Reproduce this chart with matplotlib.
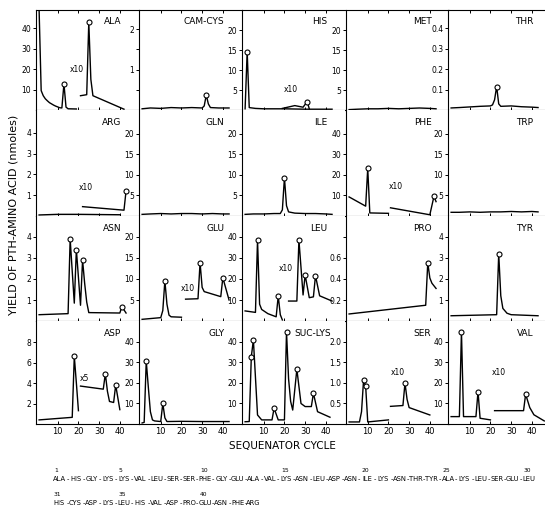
import numpy as np
import matplotlib.pyplot as plt

# values: sequenator cycle -> yield of PTH-amino acid (nmoles)
# "_x10" / "_x5" series are the expanded traces, given as drawn on the panel scale

ala_cyc = [1, 2, 3, 4, 5, 6, 7, 8, 9, 10, 11, 12, 13, 14, 15, 19]
ala_val = [49, 9.5, 7, 5.5, 4.5, 3.6, 3.0, 2.4, 1.9, 1.5, 1.1, 1.0, 12.8, 1.4, 0.6, 0.5]
ala_peaks = [13]
ala_x10_cyc = [21, 24, 25, 26, 27, 42]
ala_x10_val = [7.0, 7.5, 43, 15, 7.0, 0.4]
ala_x10_peaks = [25]

cys_cyc = [1, 5, 10, 15, 20, 25, 30, 31, 32, 33, 34, 38, 43]
cys_val = [0.03, 0.05, 0.04, 0.06, 0.05, 0.06, 0.05, 0.1, 0.37, 0.15, 0.06, 0.05, 0.05]
cys_peaks = [32]

his_cyc = [1, 2, 3, 6, 10, 20, 30, 40, 43]
his_val = [0.3, 14.6, 0.6, 0.4, 0.3, 0.3, 0.2, 0.2, 0.2]
his_peaks = [2]
his_x10_cyc = [19, 25, 29, 31, 32]
his_x10_val = [0.4, 1.1, 0.7, 2.1, 0.3]
his_x10_peaks = [31]

met_cyc = [1, 5, 10, 15, 20, 25, 30, 35, 40, 43]
met_val = [0.1, 0.2, 0.3, 0.3, 0.4, 0.3, 0.4, 0.5, 0.4, 0.3]

thr_cyc = [1, 5, 10, 15, 20, 21, 22, 23, 24, 25, 30, 35, 40, 43]
thr_val = [0.01, 0.012, 0.015, 0.018, 0.02, 0.025, 0.05, 0.115, 0.03, 0.018, 0.02, 0.016, 0.014, 0.012]
thr_peaks = [23]

arg_cyc = [1, 10, 20, 30, 40]
arg_val = [0.05, 0.08, 0.08, 0.07, 0.06]
arg_x10_cyc = [22, 42, 43]
arg_x10_val = [0.45, 0.28, 1.2]
arg_x10_peaks = [43]

gln_cyc = [1, 5, 10, 15, 20, 25, 30, 35, 40, 43]
gln_val = [0.4, 0.5, 0.6, 0.5, 0.6, 0.6, 0.5, 0.6, 0.5, 0.5]

ile_cyc = [1, 5, 10, 15, 18, 19, 20, 21, 22, 25, 30, 35, 40, 43]
ile_val = [0.4, 0.5, 0.5, 0.6, 0.6, 1.5, 9.3, 2.5, 1.0, 0.7, 0.6, 0.6, 0.5, 0.4]
ile_peaks = [20]

phe_cyc = [1, 9, 10, 11, 20]
phe_val = [9.3, 4.8, 23.2, 1.5, 1.3]
phe_peaks = [10]
phe_x10_cyc = [21, 40, 42, 43]
phe_x10_val = [4.0, 0.6, 9.6, 7.0]
phe_x10_peaks = [42]

trp_cyc = [1, 5, 10, 15, 20, 25, 30, 35, 40, 43]
trp_val = [0.9, 0.9, 1.0, 0.9, 1.0, 1.0, 1.1, 1.0, 1.1, 1.0]

asn_cyc = [1, 15, 16, 18, 19, 21, 22, 23, 24, 25, 40, 41, 43]
asn_val = [0.3, 0.35, 3.9, 0.85, 3.4, 0.75, 2.9, 1.8, 0.9, 0.4, 0.38, 0.68, 0.38]
asn_peaks = [16, 19, 22, 41]

glu_cyc = [1, 10, 11, 12, 13, 14, 15, 20]
glu_val = [0.4, 0.8, 2.5, 9.6, 4.0, 1.4, 1.0, 0.9]
glu_peaks = [12]
glu_x10_cyc = [22, 28, 29, 30, 31, 39, 40, 43]
glu_x10_val = [5.2, 5.3, 13.9, 8.0, 7.0, 5.8, 10.3, 5.0]
glu_x10_peaks = [29, 40]

leu_cyc = [1, 6, 7, 8, 9, 12, 16, 17, 18, 19]
leu_val = [4.8, 4.1, 38.6, 8.0, 5.5, 3.5, 2.0, 11.9, 3.0, 0.5]
leu_peaks = [7, 17]
leu_x10_cyc = [22, 26, 27, 29, 30, 32, 34, 35, 37, 43]
leu_x10_val = [9.5, 9.5, 38.6, 12.4, 21.9, 11.1, 11.5, 21.6, 12.0, 9.5]
leu_x10_peaks = [27, 30, 35]

pro_cyc = [1, 38, 39, 40, 41, 43]
pro_val = [0.067, 0.15, 0.555, 0.41, 0.36, 0.31]
pro_peaks = [39]

tyr_cyc = [1, 23, 24, 25, 26, 28, 30, 43]
tyr_val = [0.25, 0.3, 3.2, 1.2, 0.6, 0.37, 0.3, 0.25]
tyr_peaks = [24]

asp_cyc = [1, 17, 18, 19, 20]
asp_val = [0.4, 0.65, 6.6, 4.0, 1.3]
asp_peaks = [18]
asp_x5_cyc = [21, 32, 33, 34, 35, 37, 38, 40]
asp_x5_val = [3.7, 3.4, 4.9, 3.2, 2.2, 2.1, 3.8, 1.4]
asp_x5_peaks = [33, 38]

gly_cyc = [1, 2, 3, 4, 5, 6, 7, 10, 11, 12, 13, 20, 30, 43]
gly_val = [0.5, 0.8, 30.7, 18, 6, 2, 1.5, 1.2, 10, 3, 1.2, 1.3, 1.2, 1.2]
gly_peaks = [3, 11]

suc_cyc = [1, 3, 4, 5, 7, 9, 14, 15, 17, 20, 21, 22, 23, 24, 26, 28, 30, 33, 34, 36, 42]
suc_val = [1.1, 1.2, 32.8, 41, 4.4, 2, 2, 7.7, 2, 2, 45, 22, 11, 6.8, 26.7, 10, 8.5, 8.5, 15, 6, 3.3]
suc_peaks = [4, 5, 15, 21, 26, 34]

ser_cyc = [1, 6, 7, 8, 9, 10, 20]
ser_val = [0.05, 0.05, 0.3, 1.08, 0.92, 0.05, 0.1]
ser_peaks = [8, 9]
ser_x10_cyc = [21, 27, 28, 29, 30, 40]
ser_x10_val = [0.43, 0.45, 1.0, 0.6, 0.4, 0.22]
ser_x10_peaks = [28]

val_cyc = [1, 5, 6, 7, 13, 14, 15, 20]
val_val = [3.6, 3.6, 45, 3.6, 3.6, 15.8, 2.8, 2.0]
val_peaks = [6, 14]
val_x10_cyc = [22, 36, 37, 39, 41, 46]
val_x10_val = [6.5, 6.5, 14.5, 8.0, 4.5, 1.5]
val_x10_peaks = [37]

# y axis ticks / labels
t5 = [5, 10, 15, 20]
t10 = [10, 20, 30, 40]
t1 = [1, 2, 3, 4]
cys_ticks, cys_labels = [0.5, 1, 1.5, 2], ['', '1', '', '2']
thr_ticks, thr_labels = [0.1, 0.2, 0.3, 0.4], ['0.1', '0.2', '0.3', '0.4']
pro_ticks, pro_labels = [0.2, 0.4, 0.6, 0.8], ['0.2', '0.4', '0.6', '']
asp_ticks = [2, 4, 6, 8]
ser_ticks, ser_labels = [0.5, 1.0, 1.5, 2.0], ['0.5', '1.0', '1.5', '2.0']

sequence = ('ALA HIS GLY LYS LYS VAL LEU SER SER PHE GLY GLU ALA VAL LYS ASN LEU ASP '
            'ASN ILE LYS ASN THR TYR ALA LYS LEU SER GLU LEU HIS CYS ASP LYS LEU HIS '
            'VAL ASP PRO GLU ASN PHE ARG').split()
seq_numbers = [1, 5, 10, 15, 20, 25, 30, 31, 35, 40]

def lab(t):
    return [str(v) for v in t]

# name, main, peaks, expanded trace, its peaks, factor text, y top, yticks, ylabels
panels = [
    ('ALA', ala_cyc, ala_val, ala_peaks, ala_x10_cyc, ala_x10_val, ala_x10_peaks, 'x10', (0.40, 0.40), 49, t10, lab(t10)),
    ('CAM-CYS', cys_cyc, cys_val, cys_peaks, None, None, None, None, None, 2.47, cys_ticks, cys_labels),
    ('HIS', his_cyc, his_val, his_peaks, his_x10_cyc, his_x10_val, his_x10_peaks, 'x10', (0.47, 0.20), 25, t5, lab(t5)),
    ('MET', met_cyc, met_val, [], None, None, None, None, None, 25, t5, lab(t5)),
    ('THR', thr_cyc, thr_val, thr_peaks, None, None, None, None, None, 0.49, thr_ticks, thr_labels),
    ('ARG', arg_cyc, arg_val, [], arg_x10_cyc, arg_x10_val, arg_x10_peaks, 'x10', (0.48, 0.27), 5.1, t1, lab(t1)),
    ('GLN', gln_cyc, gln_val, [], None, None, None, None, None, 25.8, t5, lab(t5)),
    ('ILE', ile_cyc, ile_val, ile_peaks, None, None, None, None, None, 25.8, t5, lab(t5)),
    ('PHE', phe_cyc, phe_val, phe_peaks, phe_x10_cyc, phe_x10_val, phe_x10_peaks, 'x10', (0.48, 0.28), 51.7, t10, lab(t10)),
    ('TRP', trp_cyc, trp_val, [], None, None, None, None, None, 25.8, t5, lab(t5)),
    ('ASN', asn_cyc, asn_val, asn_peaks, None, None, None, None, None, 5.0, t1, lab(t1)),
    ('GLU', glu_cyc, glu_val, glu_peaks, glu_x10_cyc, glu_x10_val, glu_x10_peaks, 'x10', (0.47, 0.31), 25, t5, lab(t5)),
    ('LEU', leu_cyc, leu_val, leu_peaks, leu_x10_cyc, leu_x10_val, leu_x10_peaks, 'x10', (0.43, 0.50), 50, t10, lab(t10)),
    ('PRO', pro_cyc, pro_val, pro_peaks, None, None, None, None, None, 1.0, pro_ticks, pro_labels),
    ('TYR', tyr_cyc, tyr_val, tyr_peaks, None, None, None, None, None, 5.0, t1, lab(t1)),
    ('ASP', asp_cyc, asp_val, asp_peaks, asp_x5_cyc, asp_x5_val, asp_x5_peaks, 'x5', (0.47, 0.44), 10.05, asp_ticks, lab(asp_ticks)),
    ('GLY', gly_cyc, gly_val, gly_peaks, None, None, None, None, None, 50.2, t10, lab(t10)),
    ('SUC-LYS', suc_cyc, suc_val, suc_peaks, None, None, None, None, None, 50.2, t10, lab(t10)),
    ('SER', ser_cyc, ser_val, ser_peaks, ser_x10_cyc, ser_x10_val, ser_x10_peaks, 'x10', (0.50, 0.50), 2.51, ser_ticks, ser_labels),
    ('VAL', val_cyc, val_val, val_peaks, val_x10_cyc, val_x10_val, val_x10_peaks, 'x10', (0.49, 0.50), 50.2, t10, lab(t10)),
]

W, H = 545, 509
col_left = [36, 139, 242, 346, 448]
col_w = 103
row_top = [10, 110, 216, 321]
row_bot = [110, 216, 321, 424]
px_per_cycle = 2.07

fig = plt.figure(figsize=(W / 100, H / 100), dpi=100)

def curve(ax, cyc, val, peaks):
    ax.plot(cyc, val, color='black', lw=1.0, solid_joinstyle='round')
    if peaks:
        ax.plot(peaks, np.interp(peaks, cyc, val), 'o', ms=3.6, mfc='white',
                mec='black', mew=0.8, zorder=3)

for i, p in enumerate(panels):
    name, cyc, val, pk, xc, xv, xpk, fac, fpos, ytop, yt, yl = p
    r, c = divmod(i, 5)
    ax = fig.add_axes([col_left[c] / W, 1 - row_bot[r] / H, col_w / W,
                       (row_bot[r] - row_top[r]) / H])
    ax.set_xlim(-0.5, -0.5 + col_w / px_per_cycle)
    ax.set_ylim(0, ytop)
    curve(ax, cyc, val, pk)
    if xc is not None:
        curve(ax, xc, xv, xpk)
        ax.text(fpos[0], fpos[1], fac, transform=ax.transAxes, fontsize=5.5,
                ha='center', va='center')
    ax.text(0.86 if name == 'SUC-LYS' else 0.83, 0.88, name, transform=ax.transAxes,
            ha='right', va='center', fontsize=6.5)
    for s in ['left', 'bottom', 'top']:
        ax.spines[s].set_linewidth(0.8)
    ax.spines['right'].set_visible(False)
    ax.spines['top'].set_visible(r == 0)
    ax.set_xticks([10, 20, 30, 40])
    ax.tick_params(axis='x', direction='in', length=2.5, width=0.7, top=(r == 0),
                   labelbottom=(r == 3), labelsize=6, pad=2)
    ax.set_yticks(yt, yl)
    ax.tick_params(axis='y', direction='out', length=2.5, width=0.7, labelsize=5.5, pad=1)

fig.text(14 / W, 1 - 215 / H, 'YIELD OF PTH-AMINO ACID (nmoles)', rotation=90,
         ha='center', va='center', fontsize=8)
fig.text(282 / W, 1 - 446 / H, 'SEQUENATOR CYCLE', ha='center', va='center', fontsize=7.5)

# amino acid sequence under the figure
dx = 16.2
for k, res in enumerate(sequence):
    n = k + 1
    line = 0 if n <= 30 else 1
    pos = (n - 1) if line == 0 else (n - 31)
    x = 53 + pos * dx
    y = [479, 503][line]
    fig.text((x + 6.3) / W, 1 - y / H, res, fontsize=4.9, ha='center', va='center')
    if not (n == 30 or n == len(sequence)):
        fig.text((x + 14.4) / W, 1 - y / H, '-', fontsize=4.9, ha='center', va='center')
    if n in seq_numbers:
        fig.text((x + 1) / W, 1 - (y - 8) / H, str(n), fontsize=4.3,
                 ha='left', va='center')

fig.savefig('out.png', dpi=100)
